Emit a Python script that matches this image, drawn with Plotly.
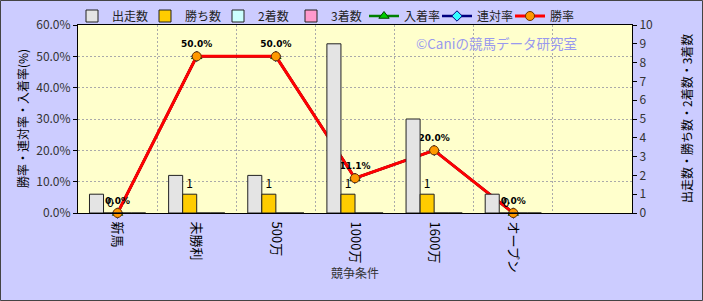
import plotly.graph_objects as go

categories = ["新馬", "未勝利", "500万", "1000万", "1600万", "オープン"]
starts = [1, 2, 2, 9, 5, 1]          # 出走数
wins = [0, 1, 1, 1, 1, 0]            # 勝ち数
seconds = [0, 0, 0, 0, 0, 0]         # 2着数
thirds = [0, 0, 0, 0, 0, 0]          # 3着数
place_rate = [0.0, 0.5, 0.5, 0.111, 0.2, 0.0]   # 入着率
quin_rate = [0.0, 0.5, 0.5, 0.111, 0.2, 0.0]    # 連対率
win_rate = [0.0, 0.5, 0.5, 0.111, 0.2, 0.0]     # 勝率
win_rate_labels = ["0.0%", "50.0%", "50.0%", "11.1%", "20.0%", "0.0%"]

W, H = 703, 301
L, R, T, B = 78, 71, 25, 88
FONT = "Noto Sans CJK JP"

x = list(range(len(categories)))
fig = go.Figure()

fig.add_trace(go.Bar(name="出走数", x=x, y=starts, yaxis="y2",
                     marker=dict(color="#E4E4E4", line=dict(color="#222", width=1))))
fig.add_trace(go.Bar(name="勝ち数", x=x, y=wins, yaxis="y2",
                     marker=dict(color="#FFCC00", line=dict(color="#222", width=1)),
                     text=[str(v) for v in wins], textposition="outside",
                     textfont=dict(size=12, color="#000", family=FONT), cliponaxis=False))
fig.add_trace(go.Bar(name="2着数", x=x, y=seconds, yaxis="y2",
                     marker=dict(color="#CCFFFF", line=dict(color="#222", width=1))))
fig.add_trace(go.Bar(name="3着数", x=x, y=thirds, yaxis="y2",
                     marker=dict(color="#FF99CC", line=dict(color="#222", width=1))))

fig.add_trace(go.Scatter(name="入着率", x=x, y=place_rate, mode="lines+markers",
                         line=dict(color="#008000", width=2.5),
                         marker=dict(symbol="triangle-up", size=9, color="#00CC00",
                                     line=dict(color="#004400", width=1)),
                         cliponaxis=False))
fig.add_trace(go.Scatter(name="連対率", x=x, y=quin_rate, mode="lines+markers",
                         line=dict(color="#000080", width=2.5),
                         marker=dict(symbol="diamond", size=8, color="#33FFFF",
                                     line=dict(color="#000080", width=1)),
                         cliponaxis=False))
fig.add_trace(go.Scatter(name="勝率", x=x, y=win_rate, mode="lines+markers+text",
                         line=dict(color="#FF0000", width=3),
                         marker=dict(symbol="circle", size=9, color="#FF9900",
                                     line=dict(color="#663300", width=1)),
                         text=win_rate_labels, textposition="top center",
                         textfont=dict(size=9, color="#000", family="DejaVu Sans"),
                         texttemplate="<b>%{text}</b>",
                         cliponaxis=False))

fig.update_layout(
    width=W, height=H,
    margin=dict(l=L, r=R, t=T, b=B, pad=0, autoexpand=False),
    paper_bgcolor="#CCCCFF", plot_bgcolor="#FFFFCC",
    font=dict(family=FONT, size=12, color="#333"),
    barmode="group", bargap=0.29, bargroupgap=0,
    showlegend=True,
    legend=dict(orientation="h", x=72 / W, xref="container", y=1 - 16 / H, yref="container",
                yanchor="middle", xanchor="left", bgcolor="rgba(0,0,0,0)",
                font=dict(size=12, color="#222"), itemwidth=30, tracegroupgap=0,
                entrywidthmode="pixels", entrywidth=28),
    xaxis=dict(range=[-0.5, 6.5], tickmode="array", tickvals=x, ticktext=categories,
               tickangle=90, showgrid=False, zeroline=False, automargin=False,
               showline=True, linecolor="#000", linewidth=1, mirror=True,
               ticks="outside", ticklen=5, tickcolor="rgba(0,0,0,0)",
               tickfont=dict(size=13, color="#000")),
    yaxis=dict(range=[0, 0.6], dtick=0.1, tickformat=".1%", showgrid=True,
               gridcolor="#AAAAAA", griddash="2px,2px", zeroline=False, automargin=False,
               showline=True, linecolor="#000", linewidth=1,
               ticks="outside", ticklen=4, tickcolor="#000",
               tickfont=dict(size=12, color="#333")),
    yaxis2=dict(range=[0, 10], dtick=1, overlaying="y", side="right", showgrid=False,
                zeroline=False, showline=True, linecolor="#000", linewidth=1, automargin=False,
                ticks="outside", ticklen=4, tickcolor="#000",
                tickfont=dict(size=12, color="#333")),
    xaxis2=dict(range=[-0.5, 6.5], overlaying="x", showticklabels=False, showgrid=True,
                gridcolor="#AAAAAA", griddash="2px,2px", gridwidth=1,
                tick0=0.5, dtick=1, zeroline=False, automargin=False),
)
# invisible helper trace so the category-boundary gridlines are drawn
fig.add_trace(go.Scatter(x=[None], y=[None], xaxis="x2", showlegend=False, hoverinfo="skip"))

ph = H - T - B
pw = W - L - R
fig.add_annotation(text="©Caniの競馬データ研究室", xref="paper", yref="paper",
                   x=(496 - L) / pw, y=(213 - 43) / ph, xanchor="center", yanchor="middle",
                   showarrow=False, font=dict(size=13.5, color="#9999EE"))
fig.add_annotation(text="勝率・連対率・入着率(%)", xref="paper", yref="paper",
                   x=(22 - L) / pw, y=0.5, xanchor="center", yanchor="middle",
                   textangle=-90, showarrow=False, font=dict(size=12, color="#000"))
fig.add_annotation(text="出走数・勝ち数・2着数・3着数", xref="paper", yref="paper",
                   x=(686 - L) / pw, y=0.5, xanchor="center", yanchor="middle",
                   textangle=-90, showarrow=False, font=dict(size=12, color="#000"))
fig.add_annotation(text="競争条件", xref="paper", yref="paper",
                   x=(355 - L) / pw, y=(213 - 272) / ph, xanchor="center", yanchor="middle",
                   showarrow=False, font=dict(size=12, color="#333"))
fig.add_shape(type="rect", xref="paper", yref="paper",
              x0=(0.5 - L) / pw, x1=(W - 0.5 - L) / pw,
              y0=-(B - 0.5) / ph, y1=1 + (T - 0.5) / ph,
              line=dict(color="#444", width=1), layer="below")

fig.write_html("out.html")
